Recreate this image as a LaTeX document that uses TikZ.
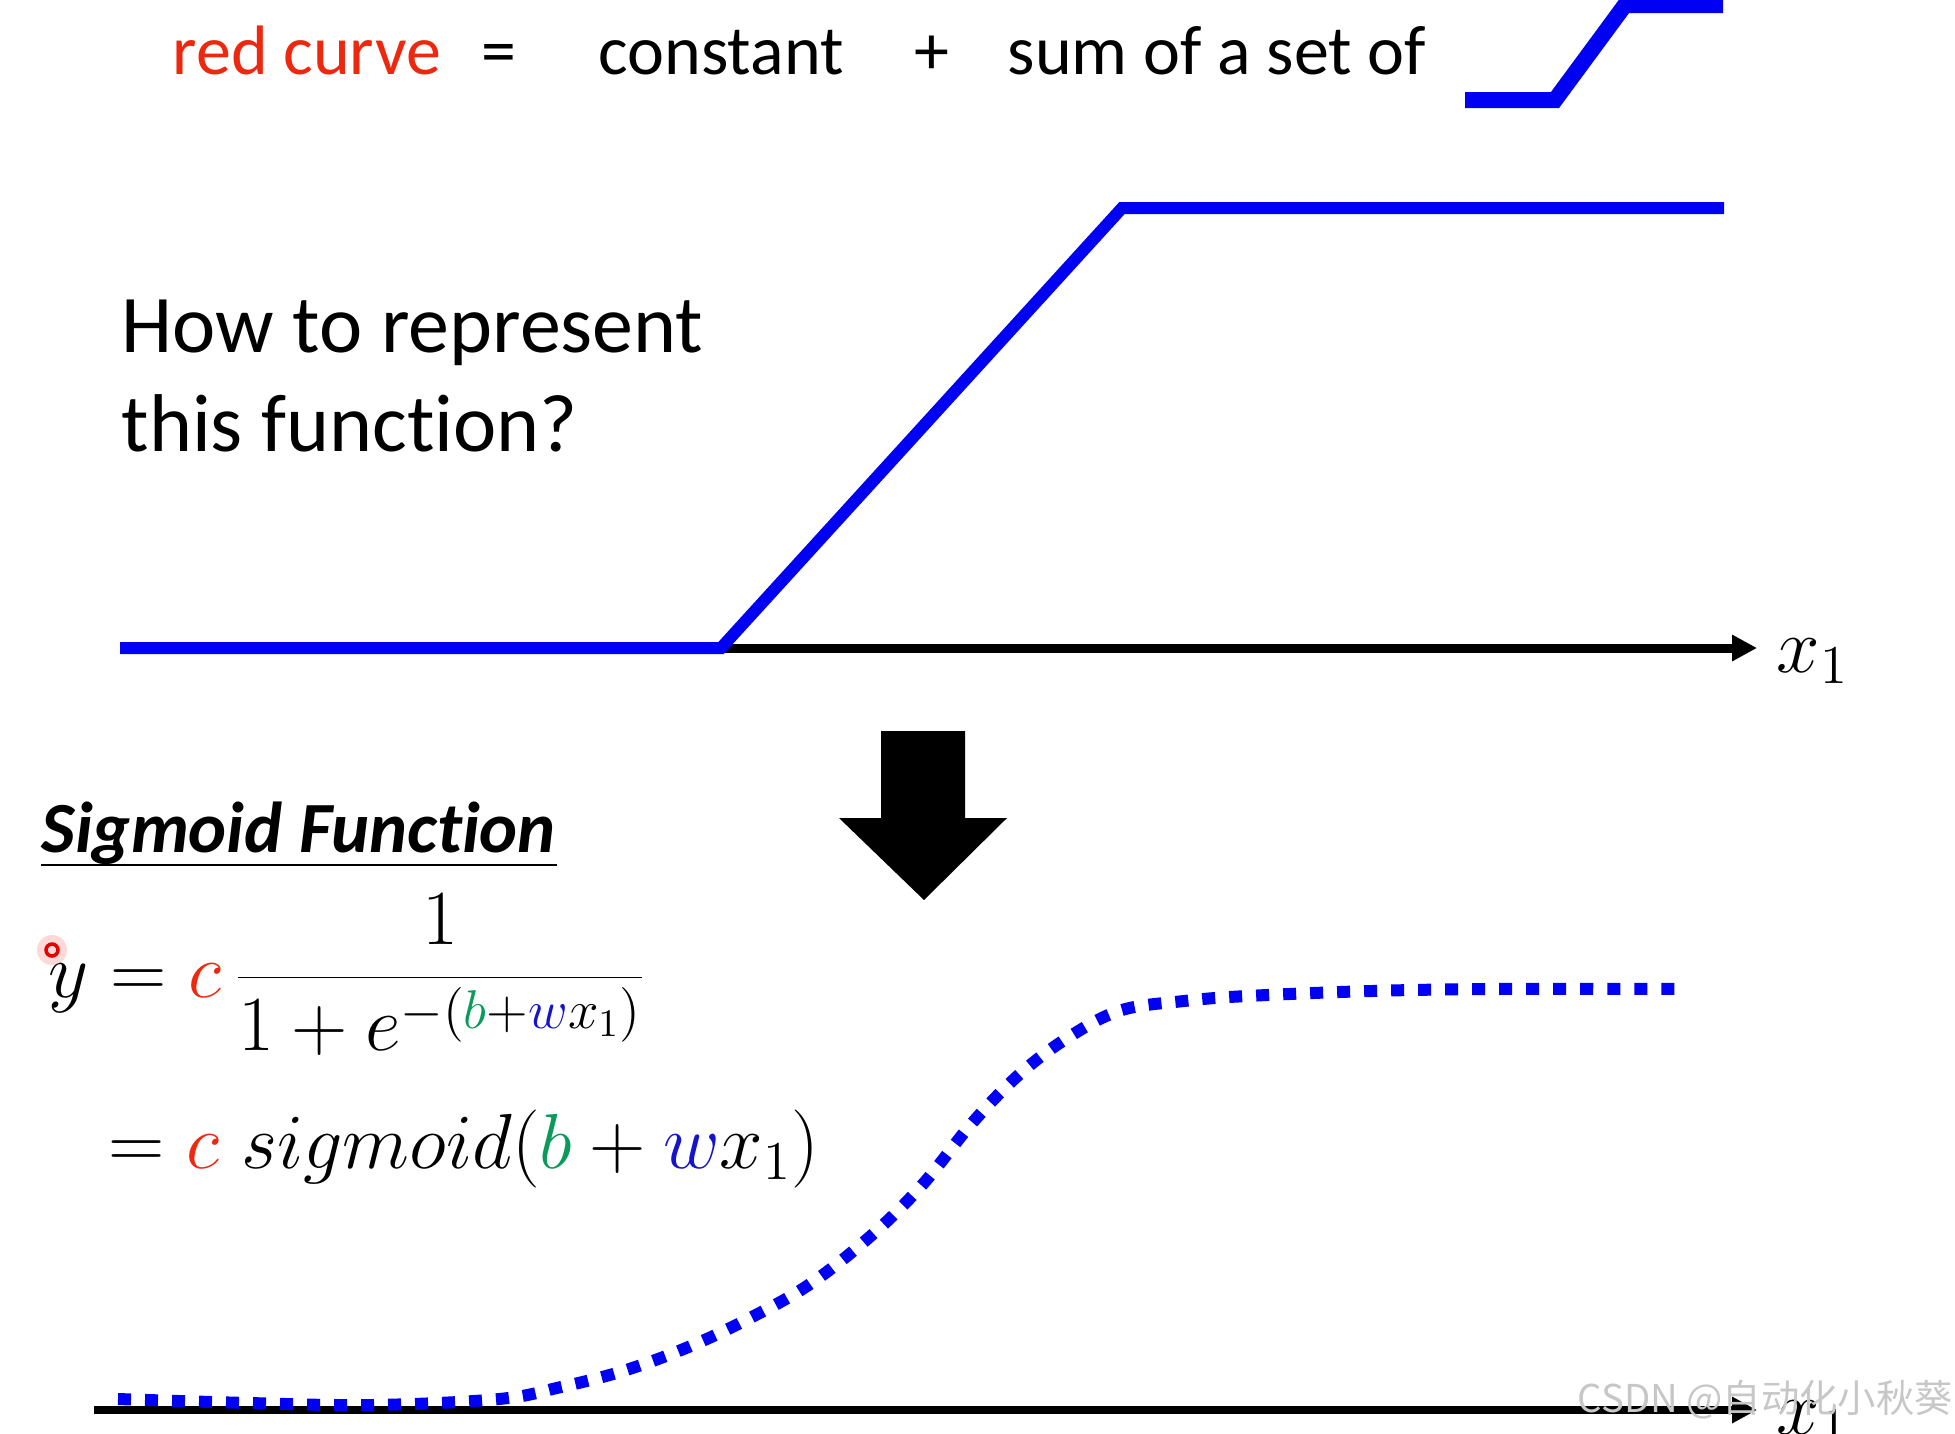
\RequirePackage{fix-cm}
\documentclass[tikz,border=0pt]{standalone}
\usepackage[no-math]{fontspec}
\setmainfont{Carlito}[Ligatures=NoCommon]
\newfontfamily\cjkmark{Noto Sans CJK SC}
\usetikzlibrary{arrows.meta}

\definecolor{curvered}{RGB}{238,40,15}
\definecolor{biasgreen}{RGB}{10,155,90}
\definecolor{weightblue}{RGB}{20,20,205}
\definecolor{fnblue}{RGB}{0,0,245}

\begin{document}
\begin{tikzpicture}[x=0.01cm,y=-0.01cm]

	\tikzset{
		fnline/.style={
			draw=fnblue,
			line width=0.12cm,
			line join=miter
		},
		iconline/.style={
			draw=fnblue,
			line width=0.16cm,
			line join=miter
		},
		axisline/.style={
			draw=black,
			line width=0.09cm,
			-{Triangle[length=0.25cm,width=0.25cm]}
		},
		dotcurve/.style={
			draw=fnblue,
			line width=0.12cm,
			dash pattern=on 0.13cm off 0.14cm
		},
		headtext/.style={
			anchor=base west,
			inner sep=0pt,
			font=\fontsize{19.9}{24}\selectfont
		},
		asktext/.style={
			anchor=base west,
			inner sep=0pt,
			align=left,
			font=\fontsize{23.3}{27.9}\selectfont
		},
		mathtext/.style={
			anchor=base west,
			inner sep=0pt,
			font=\fontsize{22.2}{26}\selectfont
		}
	}

	\useasboundingbox (0,0) rectangle (1955,1433);

	% HEADLINE
	\node[headtext, text=curvered] (red) at (172,74) {red curve};
	\node[headtext] (eq) at (481,74) {=};
	\node[headtext] (const) at (598,74) {constant};
	\node[headtext] (plus) at (914,74) {+};
	\node[headtext] (sum) at (1007,74) {sum of a set of};

	% SMALL HARD SIGMOID
	\coordinate (s0) at (1465,100);
	\coordinate (s1) at (1555,100);
	\coordinate (s2) at (1625,5);
	\coordinate (s3) at (1723,5);
	\draw[iconline] (s0) -- (s1) -- (s2) -- (s3);

	% QUESTION
	\node[asktext] (ask) at (121,451) {How to represent\\this function?};

	% PIECEWISE LINEAR FUNCTION
	\coordinate (f0) at (120,648);
	\coordinate (f1) at (721,648);
	\coordinate (f2) at (1122,208);
	\coordinate (f3) at (1724,208);
	\coordinate (ax1end) at (1757,648);
	\draw[axisline] (f1) -- (ax1end);
	\draw[fnline] (f0) -- (f1) -- (f2) -- (f3);
	\node[mathtext] (xa) at (1776,672) {$x_1$};

	% DOWN ARROW
	\fill (881,731) -- (965,731) -- (965,818) -- (1007,818) -- (924,900)
		-- (839,818) -- (881,818) -- cycle;

	% SIGMOID FUNCTION
	\node[anchor=base west, inner sep=0pt,
		font=\fontsize{20.5}{24}\selectfont\bfseries\itshape] (sig) at (41,852) {Sigmoid Function};
	\draw[line width=0.025cm] (sig.south west) -- (sig.south east);

	\node[mathtext] (eqa) at (48,997)
		{$\displaystyle y = {\color{curvered}c}\,\frac{1}{1+e^{-({\color{biasgreen}b}+{\color{weightblue}w}x_1)}}$};
	\node[mathtext] (eqb) at (108,1168)
		{$= {\color{curvered}c}\; sigmoid({\color{biasgreen}b}+{\color{weightblue}w}x_1)$};

	% POINTER
	\fill[red!30, opacity=0.5] (52,950) circle (15);
	\draw[red!90!black, line width=0.035cm] (52,950) circle (6);

	% SMOOTH CURVE
	\coordinate (a0) at (94,1410);
	\coordinate (ax2end) at (1757,1410);
	\draw[axisline, line width=0.08cm] (a0) -- (ax2end);
	\draw[dotcurve] plot[smooth, tension=0.6] coordinates {
		(118,1399) (249,1403) (374,1405) (499,1399) (561,1387) (623,1371)
		(686,1348) (748,1319) (810,1284) (873,1234) (923,1184) (973,1122)
		(1022,1072) (1072,1035) (1122,1010) (1184,1001) (1247,996)
		(1371,991) (1496,989) (1686,989)};
	\node[mathtext] (xb) at (1776,1434) {$x_1$};

	% WATERMARK
	\node[anchor=base west, inner sep=0pt, text=black!22,
		font=\cjkmark\fontsize{10.9}{13}\selectfont] (mark) at (1577,1412) {CSDN @自动化小秋葵};

\end{tikzpicture}
\end{document}
